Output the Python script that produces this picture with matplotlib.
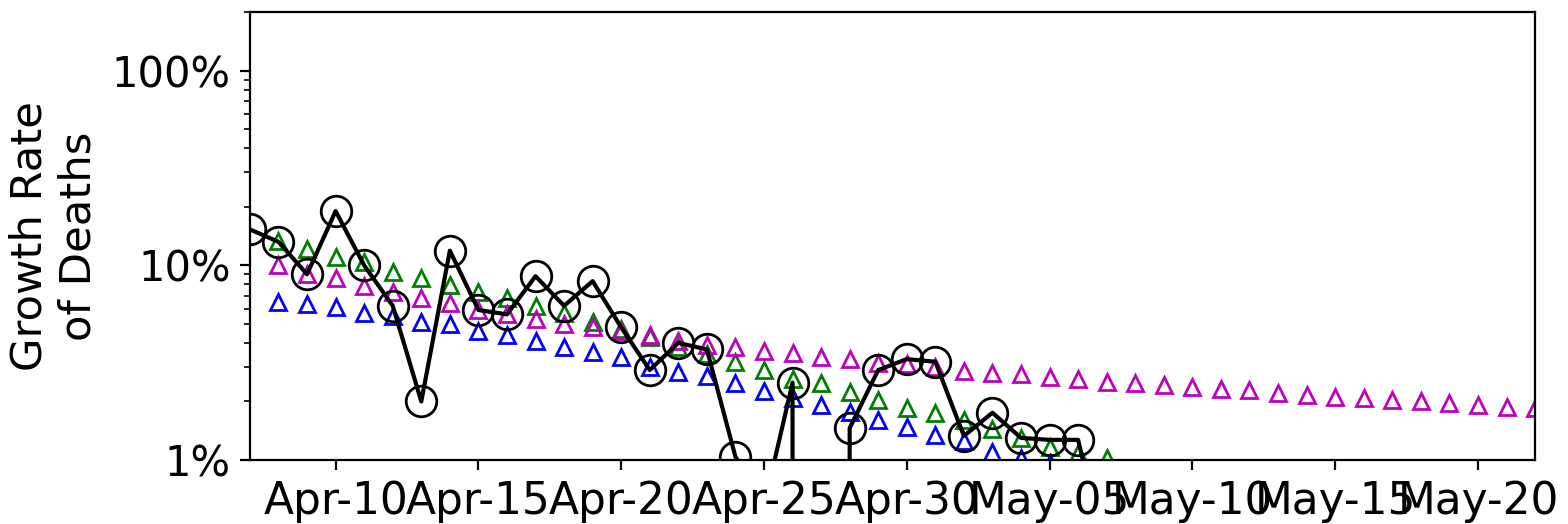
import numpy as np
import pandas as pd
import matplotlib
matplotlib.use('Agg')
import matplotlib.pyplot as plt
import matplotlib.dates as mdates
from matplotlib.ticker import FuncFormatter, NullFormatter

# observed daily growth rate of deaths (%), starting Apr-07; 0 = no growth
observed = [15.3, 13.2, 9.0, 19.0, 10.0, 6.2, 2.0, 11.9, 5.9, 5.6,
            8.8, 6.2, 8.3, 4.8, 2.9, 4.0, 3.7, 1.04, 0.58, 2.5,
            0.0, 1.46, 2.9, 3.3, 3.2, 1.33, 1.75, 1.30, 1.27, 1.27,
            0.3]

# model curves (%), starting Apr-08
green_vals = [13.3, 12.1, 11.1, 10.4, 9.2, 8.6, 7.9, 7.3, 6.8, 6.2,
              5.7, 5.1, 4.7, 4.3, 3.8, 3.5, 3.2, 2.9, 2.6, 2.5,
              2.24, 2.04, 1.85, 1.75, 1.6, 1.45, 1.3, 1.17, 1.09, 1.02]
blue_vals = [6.5, 6.3, 6.1, 5.7, 5.5, 5.1, 5.0, 4.6, 4.4, 4.1,
             3.8, 3.6, 3.4, 3.0, 2.84, 2.7, 2.5, 2.27, 2.09, 1.92,
             1.77, 1.61, 1.48, 1.35, 1.26, 1.1, 1.03, 0.97]
magenta_vals = [10.1, 9.0, 8.6, 7.8, 7.3, 6.8, 6.4, 5.9, 5.6, 5.3,
                5.0, 4.8, 4.6, 4.4, 4.1, 3.9, 3.8, 3.65, 3.55, 3.4,
                3.3, 3.16, 3.1, 3.0, 2.88, 2.81, 2.77, 2.68, 2.61, 2.53,
                2.48, 2.42, 2.37, 2.31, 2.28, 2.22, 2.16, 2.12, 2.08, 2.04,
                2.0, 1.96, 1.92, 1.88, 1.85]

obs_dates = pd.date_range('2020-04-07', periods=len(observed), freq='D')
green_dates = pd.date_range('2020-04-08', periods=len(green_vals), freq='D')
blue_dates = pd.date_range('2020-04-08', periods=len(blue_vals), freq='D')
magenta_dates = pd.date_range('2020-04-08', periods=len(magenta_vals), freq='D')

plt.rcParams['font.family'] = ['DejaVu Sans']
plt.rcParams['font.size'] = 15

fig = plt.figure(figsize=(7.84, 2.62), dpi=200)
ax = fig.add_axes([0.1594, 0.122, 0.8196, 0.855])

ax.plot(green_dates, green_vals, '^', color='g', markerfacecolor='none', markersize=6)
ax.plot(magenta_dates, magenta_vals, '^', color='m', markerfacecolor='none', markersize=6)
ax.plot(blue_dates, blue_vals, '^', color='b', markerfacecolor='none', markersize=6)
ax.plot(obs_dates, observed, 'k-o', markerfacecolor='none', markersize=11, linewidth=1.5)

ax.set_yscale('log')
ax.set_ylim(1, 200)
ax.yaxis.set_major_formatter(FuncFormatter(lambda v, p: f'{v:g}%'))
ax.yaxis.set_minor_formatter(NullFormatter())
ax.set_ylabel('Growth Rate\nof Deaths', fontsize=15.6)
ax.yaxis.set_label_coords(-0.117, 0.5)

ax.set_xlim(pd.Timestamp('2020-04-07'), pd.Timestamp('2020-05-22'))
ax.xaxis.set_major_locator(mdates.DayLocator(bymonthday=[5, 10, 15, 20, 25, 30]))
ax.xaxis.set_major_formatter(mdates.DateFormatter('%b-%d'))
ax.tick_params(axis='x', labelsize=15.8)

fig.savefig('out.png', dpi=200)
